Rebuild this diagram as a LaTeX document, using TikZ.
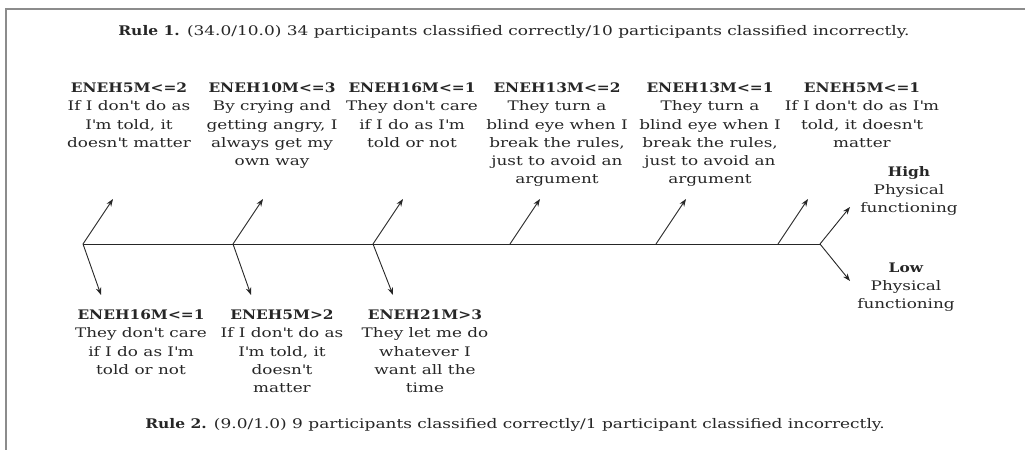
\documentclass[tikz,border=0pt]{standalone}
\usepackage{fontspec}
\setmainfont{DejaVu Serif}[FakeStretch=1.28,BoldFeatures={FakeStretch=1.17}]
\usetikzlibrary{arrows.meta}
\newcommand{\aps}{\textquotesingle}
\begin{document}
\begin{tikzpicture}[x=1bp,y=-1bp,
  conn/.style={line width=0.9bp,black!85},
  arr/.style={conn,-{Stealth[length=7.5bp,width=5.5bp]}},
  lbl/.style={anchor=north,inner sep=0pt,align=center,text=black!85,
    font=\fontsize{13.2}{18.1}\selectfont},
  rule/.style={anchor=base,inner sep=0pt,text=black!85,font=\fontsize{13.3}{18.1}\selectfont},
  frame/.style={line width=2bp,black!45}]
\useasboundingbox (0,0) rectangle (1025,450);
\draw[frame] (5.5,450) -- (5.5,9) -- (1025,9);
% titles
\node[rule] (r1) at (514,35.5) {\textbf{Rule 1.} (34.0/10.0) 34 participants classified correctly/10 participants classified incorrectly.};
\node[rule] (r2) at (515,428) {\textbf{Rule 2.} (9.0/1.0) 9 participants classified correctly/1 participant classified incorrectly.};
% branch points
\coordinate (b1) at (83,244);
\coordinate (b2) at (233,244);
\coordinate (b3) at (373,244);
\coordinate (b4) at (510,244);
\coordinate (b5) at (656,244);
\coordinate (b6) at (778,244);
\coordinate (fork) at (820,244);
% arrow ends
\coordinate (u1) at (113,199);
\coordinate (u2) at (263,199);
\coordinate (u3) at (403,199);
\coordinate (u4) at (540,199);
\coordinate (u5) at (686,199);
\coordinate (u6) at (808,199);
\coordinate (uh) at (850,207);
\coordinate (dl) at (850,281);
\coordinate (d1) at (101,295);
\coordinate (d2) at (251,295);
\coordinate (d3) at (393,295);
% lines
\draw[conn] (b1) -- (fork);
\foreach \i in {1,...,6} {\draw[arr] (b\i) -- (u\i);}
\draw[arr] (fork) -- (uh);
\draw[arr] (fork) -- (dl);
\foreach \i in {1,2,3} {\draw[arr] (b\i) -- (d\i);}
% top labels
\node[lbl] (t1) at (129,83) {\textbf{ENEH5M<=2}\\If I don\aps t do as\\I\aps m told, it\\doesn\aps t matter};
\node[lbl] (t2) at (272,83) {\textbf{ENEH10M<=3}\\By crying and\\getting angry, I\\always get my\\own way};
\node[lbl] (t3) at (412,83) {\textbf{ENEH16M<=1}\\They don\aps t care\\if I do as I\aps m\\told or not};
\node[lbl] (t4) at (557,83) {\textbf{ENEH13M<=2}\\They turn a\\blind eye when I\\break the rules,\\just to avoid an\\argument};
\node[lbl] (t5) at (710,83) {\textbf{ENEH13M<=1}\\They turn a\\blind eye when I\\break the rules,\\just to avoid an\\argument};
\node[lbl] (t6) at (862,83) {\textbf{ENEH5M<=1}\\If I don\aps t do as I\aps m\\told, it doesn\aps t\\matter};
\node[lbl] (high) at (909,166) {\textbf{High}\\Physical\\functioning};
\node[lbl] (low) at (906,263) {\textbf{Low}\\Physical\\functioning};
% bottom labels
\node[lbl] (s1) at (141,310) {\textbf{ENEH16M<=1}\\They don\aps t care\\if I do as I\aps m\\told or not};
\node[lbl] (s2) at (282,310) {\textbf{ENEH5M>2}\\If I don\aps t do as\\I\aps m told, it\\doesn\aps t\\matter};
\node[lbl] (s3) at (425,310) {\textbf{ENEH21M>3}\\They let me do\\whatever I\\want all the\\time};
\end{tikzpicture}
\end{document}
